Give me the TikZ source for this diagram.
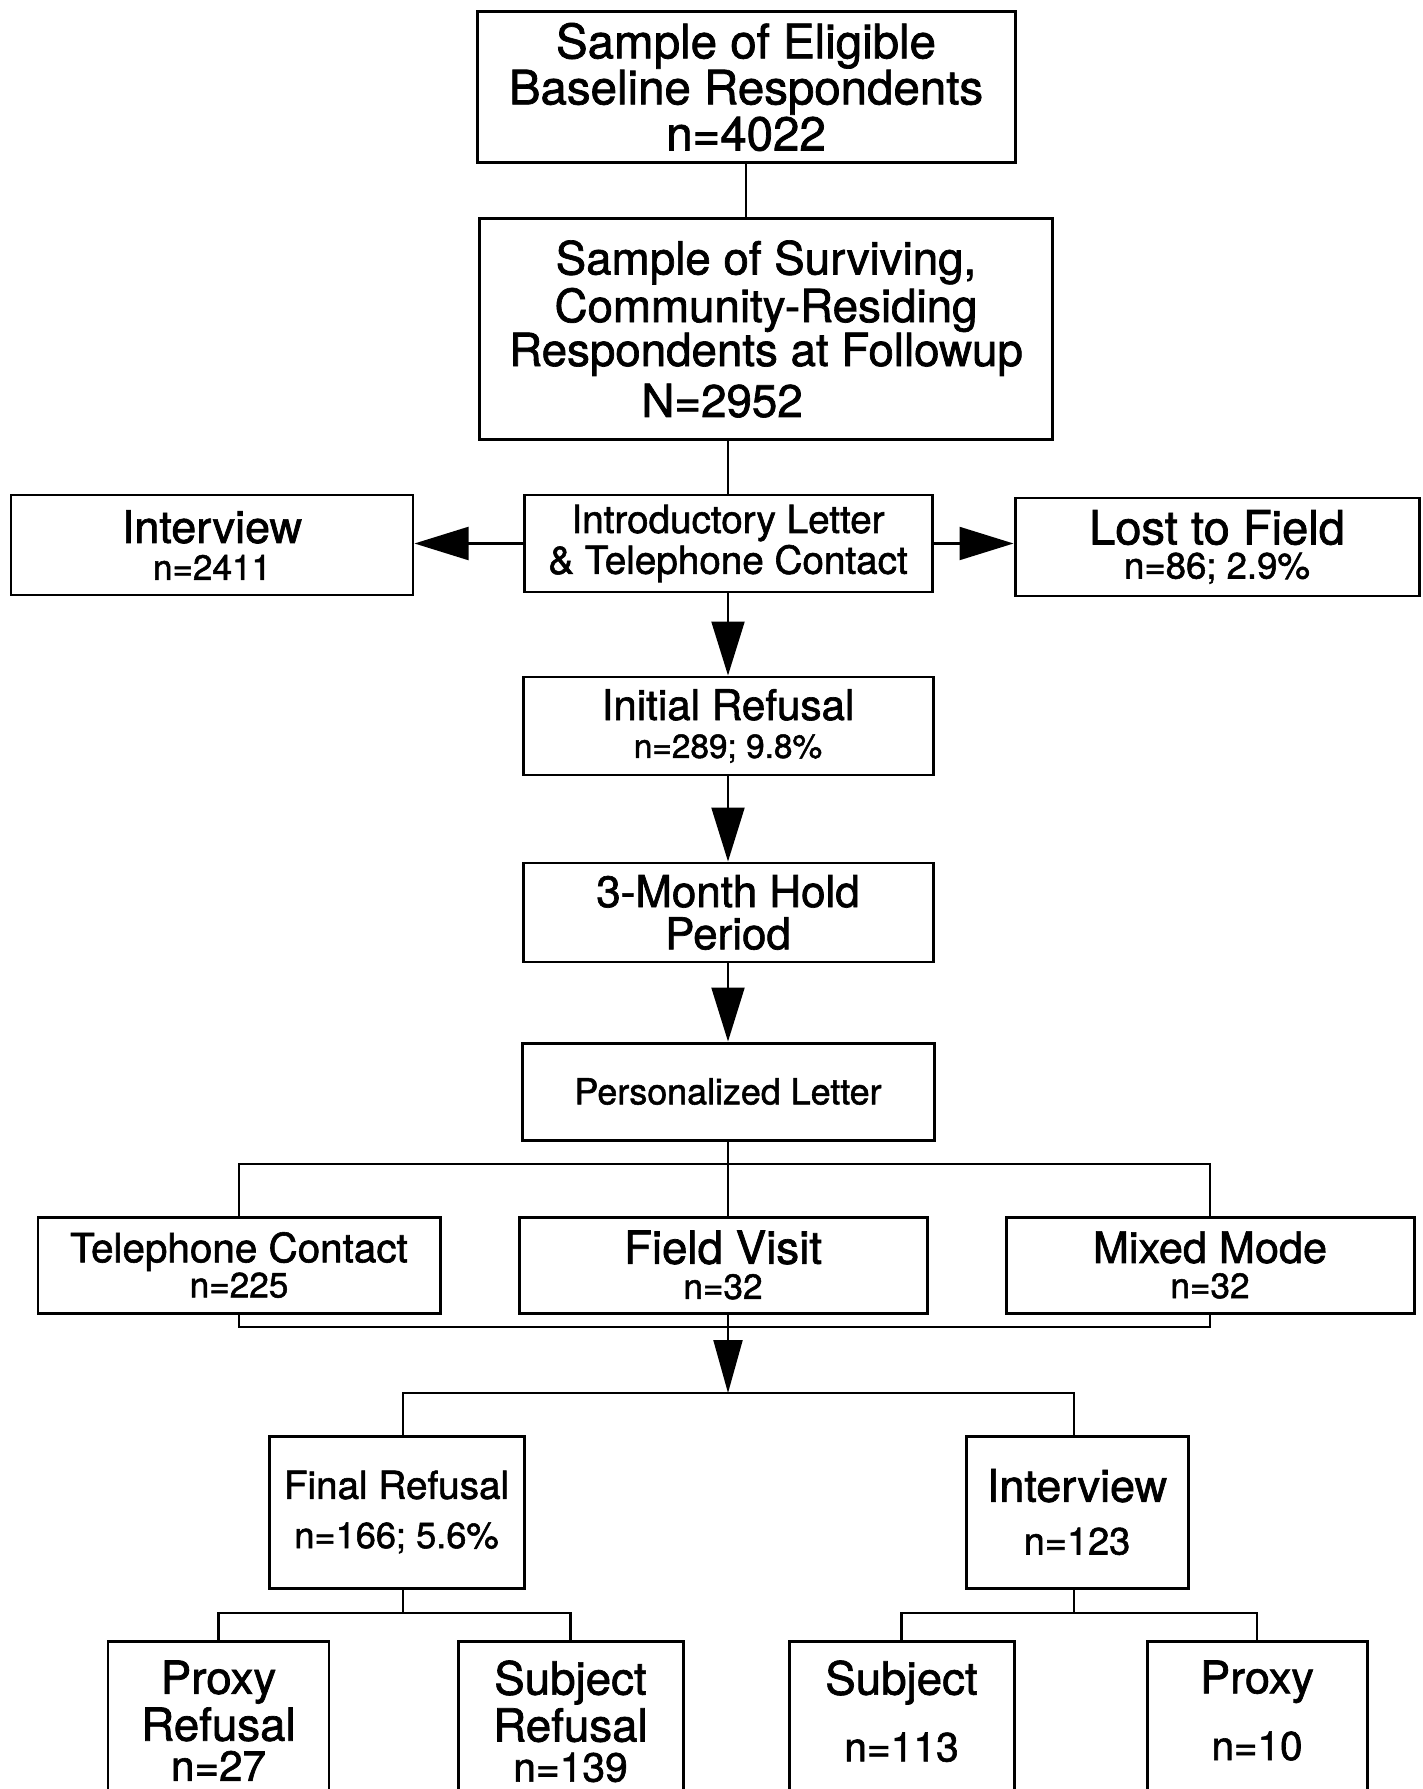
\documentclass[tikz,border=0pt]{standalone}
\usepackage{fontspec}
\setmainfont{TeX Gyre Heros}[FakeBold=1.5]
\usetikzlibrary{arrows.meta, positioning}

\begin{document}
\begin{tikzpicture}[x=0.1mm, y=-0.1mm,
        box/.style={draw, line width=0.85pt, rectangle, align=center, inner sep=0pt},
        leaf/.style={box, anchor=north, inner ysep=1.9mm, text depth=20mm},
        link/.style={line width=0.6pt},
        arr/.style={line width=0.6pt, -{Triangle[length=5.4mm, width=3.3mm]}},
        arrthin/.style={line width=0.6pt, -{Triangle[length=5.3mm, width=2.9mm]}}]
        \useasboundingbox (0,0) rectangle (1422,1789);
        \clip (0,0) rectangle (1422,1789);

        % top of the chart
        \node[box, font=\fontsize{13.5pt}{13.1pt}\selectfont, minimum width=53.8mm, minimum height=15.1mm]
            (base) at (746,87) {Sample of Eligible\\Baseline Respondents\\n=4022};
        \node[box, font=\fontsize{13pt}{12.5pt}\selectfont, minimum width=57.3mm, minimum height=22.1mm]
            (surv) at (766,329) {Sample of Surviving,\\Community-Residing\\Respondents at Followup\\[2pt]N=2952\hspace*{25pt}};

        \node[box, font=\fontsize{12.8pt}{10.5pt}\selectfont, minimum width=40.2mm, minimum height=10mm]
            (intv) at (212,545) {Interview\\{\fontsize{10pt}{10pt}\selectfont n=2411}};
        \node[box, font=\fontsize{11pt}{9.7pt}\selectfont, minimum width=40.8mm, minimum height=9.7mm]
            (intro) at (728,543.5) {Introductory Letter\\\& Telephone Contact};
        \node[box, font=\fontsize{13.4pt}{9.7pt}\selectfont, minimum width=40.4mm, minimum height=9.8mm]
            (lost) at (1217,547) {Lost to Field\\{\fontsize{10.4pt}{10pt}\selectfont n=86; 2.9\%}};

        \node[box, font=\fontsize{12pt}{10.8pt}\selectfont, minimum width=41mm, minimum height=9.8mm]
            (init) at (728,726) {Initial Refusal\\{\fontsize{9.5pt}{10pt}\selectfont n=289; 9.8\%}};
        \node[box, font=\fontsize{12.5pt}{12pt}\selectfont, minimum width=41mm, minimum height=9.9mm]
            (hold) at (728,912.5) {3-Month Hold\\Period};
        \node[box, font=\fontsize{10.2pt}{10pt}\selectfont, minimum width=41.2mm, minimum height=9.7mm]
            (pers) at (728,1091.5) {Personalized Letter};

        % contact modes
        \node[box, font=\fontsize{11.5pt}{10pt}\selectfont, minimum width=40.2mm, minimum height=9.6mm]
            (tel) at (239,1265) {Telephone Contact\\{\fontsize{10pt}{10pt}\selectfont n=225}};
        \node[box, font=\fontsize{13pt}{10pt}\selectfont, minimum width=40.8mm, minimum height=9.6mm]
            (field) at (723,1265) {Field Visit\\{\fontsize{10pt}{10pt}\selectfont n=32}};
        \node[box, font=\fontsize{12.3pt}{10pt}\selectfont, minimum width=40.8mm, minimum height=9.6mm]
            (mixed) at (1210,1265) {Mixed Mode\\{\fontsize{10pt}{10pt}\selectfont n=32}};

        % outcomes
        \node[box, font=\fontsize{11pt}{14pt}\selectfont, minimum width=25.5mm, minimum height=15.2mm]
            (fin) at (396.5,1512) {Final Refusal\\{\fontsize{10.3pt}{10pt}\selectfont n=166; 5.6\%}};
        \node[box, font=\fontsize{12.8pt}{15pt}\selectfont, minimum width=22.2mm, minimum height=15.2mm]
            (intv2) at (1077,1512) {Interview\\{\fontsize{10.8pt}{10pt}\selectfont n=123}};

        \node[leaf, font=\fontsize{13pt}{11.4pt}\selectfont, minimum width=22.1mm]
            (pref) at (218.5,1640) {Proxy\\Refusal\\{\fontsize{12pt}{10pt}\selectfont n=27}};
        \node[leaf, font=\fontsize{13pt}{11.4pt}\selectfont, minimum width=22.5mm]
            (sref) at (570.5,1640) {Subject\\Refusal\\{\fontsize{11.6pt}{10pt}\selectfont n=139}};
        \node[leaf, font=\fontsize{13pt}{19pt}\selectfont, minimum width=22.5mm]
            (subj) at (901.5,1640) {Subject\\{\fontsize{11.6pt}{10pt}\selectfont n=113}};
        \node[leaf, font=\fontsize{12.8pt}{19pt}\selectfont, minimum width=22mm]
            (prox) at (1257,1640) {Proxy\\{\fontsize{11.5pt}{10pt}\selectfont n=10}};

        \coordinate (split) at (728,1164);
        \coordinate (join)  at (728,1327);
        \coordinate (fork)  at (728,1393);
        \coordinate (ffork) at (403,1613);
        \coordinate (ifork) at (1074,1613);

        \draw[link] (base.south) -- (base.south |- surv.north);
        \draw[link] (intro.north |- surv.south) -- (intro.north);
        \draw[arr] (intro.west) -- (intro.west -| intv.east);
        \draw[arr] (intro.east) -- (intro.east -| lost.west);
        \draw[arr] (intro) -- (init);
        \draw[arr] (init) -- (hold);
        \draw[arr] (hold) -- (pers);

        \draw[link] (pers.south) -- (split);
        \draw[link] (tel.north) |- (split) -| (mixed.north);
        \draw[link] (split) -- (split |- field.north);
        \draw[link] (tel.south) |- (join) -| (mixed.south);
        \draw[link] (join |- field.south) -- (join);
        \draw[arrthin] (join) -- (fork);
        \draw[link] (fin.north -| ffork) |- (fork) -| (intv2.north -| ifork);

        \draw[link] (fin.south -| ffork) -- (ffork);
        \draw[link] (pref.north) |- (ffork) -| (sref.north);
        \draw[link] (intv2.south -| ifork) -- (ifork);
        \draw[link] (subj.north) |- (ifork) -| (prox.north);
    \end{tikzpicture}
\end{document}
